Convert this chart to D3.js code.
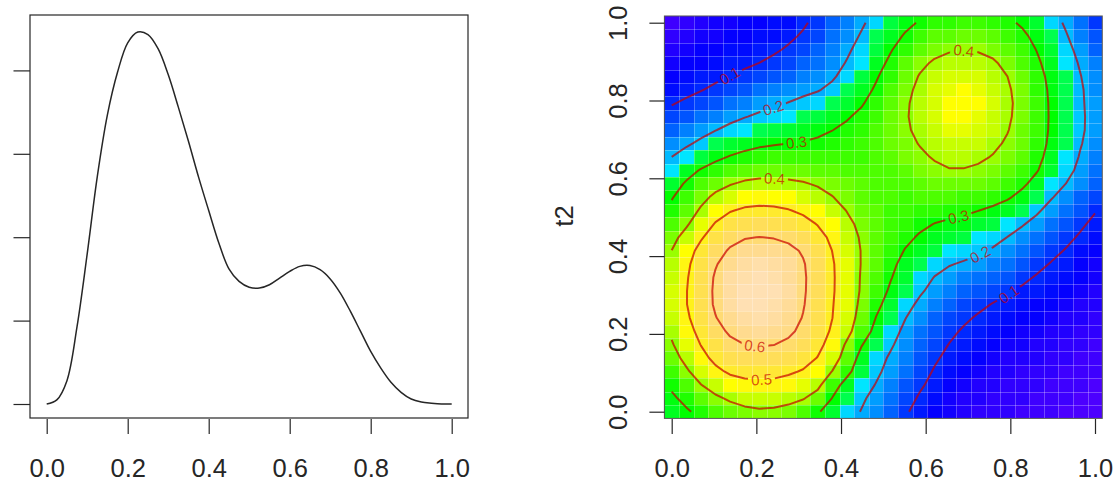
<!DOCTYPE html>
<html><head><meta charset="utf-8">
<script src="https://cdn.jsdelivr.net/npm/d3@7"></script>
<style>body{margin:0;background:#fff} svg{display:block} text{font-family:"Liberation Sans",Arial,Helvetica,sans-serif}</style>
</head><body><svg id="c" width="1113" height="490"></svg>
<script>
// ---------- left panel: density curve ----------
const densityT = [0,0.025,0.05,0.075,0.1,0.125,0.15,0.175,0.2,0.225,0.25,0.275,0.3,0.325,0.35,0.375,0.4,0.425,0.45,0.475,0.5,0.525,0.55,0.575,0.6,0.625,0.65,0.675,0.7,0.725,0.75,0.775,0.8,0.825,0.85,0.875,0.9,0.925,0.95,0.975,1];
const densityV = [0,0.05,0.28,0.93,1.80,2.73,3.47,3.98,4.33,4.46,4.43,4.26,3.95,3.56,3.15,2.72,2.32,1.93,1.62,1.47,1.40,1.39,1.43,1.51,1.59,1.65,1.66,1.61,1.50,1.33,1.11,0.87,0.63,0.43,0.26,0.14,0.06,0.025,0.01,0,0];
const xTicks = [0,0.2,0.4,0.6,0.8,1.0];
const densityYTicks = [0,1,2,3,4];
const t2Ticks = [0,0.2,0.4,0.6,0.8,1.0];

// ---------- right panel: surface on a 30 x 30 grid (rows: t2 = 0 ... 1, columns: t1 = 0 ... 1) ----------
const gridT = [0,0.0345,0.069,0.1034,0.1379,0.1724,0.2069,0.2414,0.2759,0.3103,0.3448,0.3793,0.4138,0.4483,0.4828,0.5172,0.5517,0.5862,0.6207,0.6552,0.6897,0.7241,0.7586,0.7931,0.8276,0.8621,0.8966,0.931,0.9655,1];
const zValues = [
[0.279,0.292,0.316,0.344,0.367,0.383,0.391,0.387,0.374,0.349,0.308,0.264,0.226,0.197,0.166,0.135,0.106,0.083,0.067,0.054,0.045,0.038,0.034,0.031,0.027,0.024,0.021,0.018,0.014,0.010],
[0.289,0.317,0.353,0.386,0.411,0.426,0.431,0.431,0.423,0.405,0.367,0.298,0.243,0.210,0.180,0.149,0.119,0.094,0.076,0.061,0.051,0.044,0.039,0.035,0.032,0.029,0.025,0.022,0.019,0.014],
[0.311,0.352,0.398,0.436,0.463,0.477,0.481,0.479,0.470,0.455,0.420,0.336,0.271,0.230,0.197,0.165,0.134,0.107,0.086,0.070,0.058,0.050,0.044,0.040,0.036,0.033,0.030,0.026,0.023,0.018],
[0.342,0.389,0.439,0.482,0.512,0.526,0.529,0.524,0.511,0.494,0.460,0.398,0.322,0.254,0.213,0.179,0.147,0.119,0.096,0.079,0.066,0.057,0.050,0.045,0.041,0.037,0.034,0.030,0.026,0.022],
[0.370,0.421,0.475,0.520,0.551,0.566,0.570,0.565,0.552,0.531,0.497,0.444,0.358,0.271,0.225,0.191,0.159,0.130,0.107,0.088,0.074,0.064,0.056,0.050,0.046,0.042,0.038,0.035,0.030,0.026],
[0.393,0.447,0.502,0.550,0.583,0.600,0.605,0.601,0.587,0.562,0.523,0.468,0.387,0.305,0.248,0.208,0.173,0.142,0.118,0.099,0.084,0.073,0.064,0.057,0.052,0.047,0.043,0.039,0.035,0.030],
[0.413,0.468,0.525,0.576,0.611,0.629,0.635,0.629,0.613,0.584,0.542,0.489,0.426,0.348,0.275,0.225,0.186,0.155,0.130,0.110,0.095,0.083,0.073,0.065,0.059,0.054,0.049,0.045,0.040,0.034],
[0.431,0.486,0.545,0.597,0.633,0.651,0.657,0.649,0.629,0.597,0.553,0.501,0.441,0.370,0.298,0.244,0.202,0.169,0.144,0.124,0.108,0.095,0.084,0.076,0.068,0.062,0.056,0.050,0.045,0.039],
[0.442,0.497,0.556,0.610,0.646,0.665,0.670,0.661,0.639,0.605,0.559,0.505,0.447,0.383,0.321,0.267,0.222,0.187,0.161,0.140,0.123,0.110,0.098,0.089,0.080,0.071,0.064,0.057,0.050,0.043],
[0.443,0.497,0.557,0.612,0.649,0.669,0.675,0.666,0.644,0.609,0.563,0.509,0.451,0.392,0.337,0.289,0.245,0.209,0.180,0.158,0.142,0.129,0.117,0.105,0.093,0.083,0.073,0.064,0.056,0.047],
[0.436,0.492,0.554,0.608,0.644,0.664,0.670,0.663,0.643,0.610,0.564,0.510,0.451,0.394,0.346,0.304,0.263,0.228,0.198,0.178,0.165,0.153,0.140,0.126,0.110,0.096,0.084,0.073,0.063,0.052],
[0.423,0.483,0.544,0.595,0.630,0.650,0.657,0.651,0.635,0.606,0.562,0.508,0.451,0.397,0.353,0.315,0.280,0.248,0.221,0.204,0.193,0.181,0.165,0.147,0.129,0.112,0.097,0.084,0.071,0.059],
[0.401,0.464,0.526,0.574,0.608,0.627,0.633,0.629,0.617,0.593,0.551,0.499,0.446,0.397,0.357,0.325,0.297,0.272,0.249,0.234,0.222,0.210,0.193,0.172,0.151,0.131,0.113,0.097,0.081,0.067],
[0.374,0.430,0.491,0.543,0.578,0.596,0.601,0.597,0.586,0.564,0.528,0.483,0.434,0.392,0.359,0.333,0.312,0.294,0.276,0.263,0.252,0.238,0.221,0.199,0.176,0.153,0.132,0.112,0.094,0.077],
[0.343,0.389,0.447,0.506,0.541,0.557,0.562,0.558,0.547,0.527,0.496,0.457,0.417,0.383,0.357,0.338,0.324,0.311,0.299,0.290,0.281,0.269,0.253,0.232,0.206,0.180,0.153,0.129,0.108,0.089],
[0.317,0.359,0.410,0.461,0.495,0.512,0.518,0.514,0.504,0.486,0.460,0.429,0.398,0.372,0.353,0.341,0.333,0.327,0.322,0.318,0.312,0.301,0.288,0.270,0.243,0.210,0.177,0.149,0.125,0.103],
[0.295,0.335,0.377,0.416,0.444,0.461,0.468,0.466,0.458,0.444,0.425,0.402,0.380,0.362,0.349,0.343,0.342,0.343,0.345,0.346,0.342,0.334,0.324,0.308,0.281,0.244,0.205,0.174,0.145,0.120],
[0.269,0.308,0.344,0.372,0.395,0.411,0.418,0.417,0.413,0.405,0.393,0.378,0.364,0.353,0.346,0.346,0.352,0.360,0.368,0.372,0.371,0.365,0.354,0.338,0.313,0.278,0.238,0.200,0.166,0.137],
[0.237,0.273,0.305,0.329,0.349,0.363,0.371,0.373,0.372,0.369,0.363,0.357,0.351,0.347,0.346,0.352,0.363,0.376,0.388,0.397,0.397,0.390,0.378,0.361,0.337,0.305,0.263,0.221,0.184,0.151],
[0.200,0.230,0.259,0.284,0.304,0.319,0.329,0.333,0.335,0.335,0.337,0.338,0.339,0.342,0.348,0.359,0.374,0.390,0.405,0.416,0.418,0.411,0.397,0.379,0.353,0.319,0.278,0.235,0.195,0.163],
[0.167,0.189,0.214,0.239,0.260,0.276,0.288,0.295,0.300,0.304,0.311,0.319,0.327,0.337,0.349,0.365,0.384,0.403,0.420,0.432,0.435,0.428,0.413,0.392,0.364,0.328,0.287,0.243,0.204,0.172],
[0.139,0.157,0.177,0.198,0.218,0.235,0.248,0.258,0.266,0.275,0.286,0.299,0.313,0.328,0.346,0.368,0.391,0.414,0.433,0.447,0.450,0.443,0.427,0.403,0.372,0.334,0.291,0.247,0.209,0.179],
[0.116,0.130,0.146,0.163,0.181,0.197,0.211,0.223,0.234,0.245,0.258,0.274,0.294,0.314,0.338,0.366,0.394,0.420,0.442,0.457,0.461,0.454,0.436,0.410,0.377,0.336,0.292,0.247,0.208,0.183],
[0.097,0.107,0.119,0.133,0.148,0.163,0.177,0.189,0.202,0.215,0.227,0.244,0.268,0.294,0.325,0.358,0.391,0.421,0.444,0.460,0.465,0.457,0.439,0.413,0.378,0.336,0.291,0.246,0.207,0.181],
[0.081,0.089,0.098,0.109,0.122,0.134,0.146,0.159,0.172,0.185,0.196,0.214,0.242,0.274,0.309,0.347,0.383,0.415,0.439,0.454,0.458,0.452,0.436,0.409,0.374,0.332,0.288,0.245,0.207,0.175],
[0.070,0.077,0.083,0.091,0.101,0.110,0.120,0.132,0.144,0.157,0.171,0.192,0.221,0.255,0.293,0.332,0.371,0.404,0.428,0.441,0.445,0.440,0.425,0.400,0.365,0.324,0.282,0.240,0.202,0.167],
[0.061,0.067,0.072,0.079,0.085,0.092,0.100,0.110,0.122,0.135,0.152,0.175,0.204,0.238,0.275,0.314,0.353,0.386,0.408,0.420,0.424,0.420,0.408,0.384,0.351,0.312,0.272,0.231,0.193,0.156],
[0.051,0.057,0.063,0.069,0.074,0.080,0.086,0.094,0.105,0.119,0.136,0.160,0.189,0.222,0.258,0.295,0.331,0.361,0.382,0.394,0.398,0.395,0.384,0.363,0.334,0.298,0.260,0.220,0.180,0.143],
[0.040,0.048,0.054,0.060,0.066,0.070,0.075,0.082,0.092,0.105,0.123,0.146,0.175,0.206,0.240,0.275,0.307,0.334,0.353,0.363,0.367,0.365,0.356,0.339,0.314,0.282,0.246,0.206,0.165,0.127],
[0.030,0.038,0.045,0.052,0.058,0.063,0.067,0.073,0.082,0.094,0.112,0.135,0.161,0.191,0.223,0.254,0.283,0.306,0.323,0.332,0.335,0.334,0.327,0.313,0.291,0.262,0.228,0.191,0.150,0.110]
];
const contourLevels = [0.1,0.2,0.3,0.4,0.5,0.6];
// where R placed each contour label (t1, t2)
const labelLevel = [0.1,0.2,0.3,0.4,0.6,0.5,0.4,0.3,0.2,0.1];
const labelT1 = [0.137,0.24,0.295,0.243,0.196,0.212,0.69,0.678,0.727,0.795];
const labelT2 = [0.864,0.781,0.691,0.599,0.167,0.086,0.926,0.497,0.407,0.304];

// ---------- drawing ----------
const svg=d3.select("#c");
const ink="#262626";
const NG=gridT.length;
// left panel
const xL=d3.scaleLinear([0,1],[46.7,451.7]);
const yL=d3.scaleLinear([0,1],[404,404-83.4]);
svg.append("rect").attr("x",30).attr("y",15).attr("width",438).attr("height",403).attr("fill","none").attr("stroke",ink).attr("stroke-width",1.2);
svg.append("path").datum(densityT.map((t,i)=>[t,densityV[i]]))
  .attr("d",d3.line().x(d=>xL(d[0])).y(d=>yL(d[1])).curve(d3.curveCatmullRom.alpha(0.5)))
  .attr("fill","none").attr("stroke",ink).attr("stroke-width",1.5);
const axL=svg.append("g").attr("transform","translate(0,419)").call(d3.axisBottom(xL).tickValues(xTicks).tickFormat(d3.format(".1f")).tickSize(15).tickPadding(25));
const axLy=svg.append("g").attr("transform","translate(30,0)").call(d3.axisLeft(yL).tickValues(densityYTicks).tickFormat("").tickSize(16.5));

// right panel
const xR=d3.scaleLinear([0,1],[671.7,1095]);
const yR=d3.scaleLinear([0,1],[411.7,22.7]);
const half=0.5/(NG-1);
function hsv(h,s,v){const i=Math.floor(h*6),f=h*6-i,p=v*(1-s),q=v*(1-f*s),t=v*(1-(1-f)*s);let r,g,b;
 switch(((i%6)+6)%6){case 0:r=v;g=t;b=p;break;case 1:r=q;g=v;b=p;break;case 2:r=p;g=v;b=t;break;case 3:r=p;g=q;b=v;break;case 4:r=t;g=p;b=v;break;default:r=v;g=p;b=q;}
 return d3.rgb(Math.round(r*255),Math.round(g*255),Math.round(b*255)).formatHex();}
function topoColors(nc){const j=Math.floor(nc/3),k=Math.floor(nc/3),i=nc-j-k;const sq=(a,b,m)=>m===1?[a]:d3.range(m).map(q=>a+(b-a)*q/(m-1));
 const c=[];sq(43/60,31/60,i).forEach(h=>c.push(hsv(h,1,1)));sq(23/60,11/60,j).forEach(h=>c.push(hsv(h,1,1)));
 const hs=sq(10/60,6/60,k),ss=sq(1,0.3,k);hs.forEach((h,q)=>c.push(hsv(h,ss[q],1)));return c;}
const pal=topoColors(64);
const flat=zValues.flat();
const colScale=d3.scaleQuantize(d3.extent(flat),pal);
const cells=[];zValues.forEach((row,j)=>row.forEach((v,i)=>cells.push({i,j,v})));
svg.append("g").attr("shape-rendering","crispEdges").selectAll("rect").data(cells).join("rect")
 .attr("x",d=>xR(gridT[d.i]-half)).attr("width",d=>xR(gridT[d.i]+half)-xR(gridT[d.i]-half))
 .attr("y",d=>yR(gridT[d.j]+half)).attr("height",d=>yR(gridT[d.j]-half)-yR(gridT[d.j]+half))
 .attr("fill",d=>colScale(d.v));
const gSeam=svg.append("g").attr("stroke","rgba(255,255,255,0.28)").attr("stroke-width",1);
d3.range(1,NG).forEach(i=>{const x=Math.round(xR(gridT[i]-half))+0.5;gSeam.append("line").attr("x1",x).attr("x2",x).attr("y1",yR(1+half)).attr("y2",yR(-half));});
d3.range(1,NG).forEach(j=>{const y=Math.round(yR(gridT[j]-half))+0.5;gSeam.append("line").attr("y1",y).attr("y2",y).attr("x1",xR(-half)).attr("x2",xR(1+half));});

// contour lines (d3.contours, opened where they meet the grid border, like R's contour())
const contours=d3.contours().size([NG,NG]).thresholds(contourLevels)(flat);
const toPix=p=>[xR((p[0]-0.5)/(NG-1)),yR((p[1]-0.5)/(NG-1))];
const isB=p=>p[0]<0.25||p[0]>NG-0.25||p[1]<0.25||p[1]>NG-0.25;
const lines=[];
contours.forEach(c=>{c.coordinates.forEach(poly=>poly.forEach(ring=>{
  const r=ring.slice(0,-1);const bi=r.findIndex(isB);
  if(bi<0){lines.push({level:c.value,pts:ring.map(toPix),closed:true});return;}
  const rot=r.slice(bi).concat(r.slice(0,bi));let cur=[];
  rot.forEach(p=>{if(isB(p)){if(cur.length>1)lines.push({level:c.value,pts:cur.map(toPix),closed:false});cur=[];}else cur.push(p);});
  if(cur.length>1)lines.push({level:c.value,pts:cur.map(toPix),closed:false});
}));});
const lineCol="rgba(200,0,0,0.7)";
const labels=labelLevel.map((lv,k)=>{const tx=xR(labelT1[k]),ty=yR(labelT2[k]);let best=null;
  lines.filter(l=>Math.abs(l.level-lv)<1e-9).forEach(l=>{for(let q=0;q<l.pts.length-1;q++){const a=l.pts[q],b=l.pts[q+1];
    const vx=b[0]-a[0],vy=b[1]-a[1],L2=vx*vx+vy*vy;let u=L2?((tx-a[0])*vx+(ty-a[1])*vy)/L2:0;u=Math.max(0,Math.min(1,u));
    const px=a[0]+u*vx,py=a[1]+u*vy,dd=(px-tx)**2+(py-ty)**2;
    if(!best||dd<best.dd){let ang=Math.atan2(vy,vx)*180/Math.PI;if(ang>90)ang-=180;if(ang<=-90)ang+=180;best={dd,x:px,y:py,ang};}}});
  return Object.assign({text:d3.format(".1f")(lv)},best||{x:tx,y:ty,ang:0});});
const mask=svg.append("defs").append("mask").attr("id","lblmask").attr("maskUnits","userSpaceOnUse").attr("x",0).attr("y",0).attr("width",1113).attr("height",490);
mask.append("rect").attr("width",1113).attr("height",490).attr("fill","#fff");
svg.append("g").attr("mask","url(#lblmask)").selectAll("path").data(lines).join("path")
 .attr("d",l=>d3.line()(l.pts)+(l.closed?"Z":"")).attr("fill","none").attr("stroke",lineCol).attr("stroke-width",2).attr("stroke-linejoin","round");
const gL=svg.append("g");
labels.forEach(l=>{const t=gL.append("text").attr("transform",`translate(${l.x},${l.y}) rotate(${l.ang})`)
  .attr("text-anchor","middle").attr("dy","0.36em").attr("font-size",15).attr("fill",lineCol).text(l.text);
  const wd=t.node().getComputedTextLength()+6;
  mask.append("rect").attr("x",-wd/2).attr("y",-7).attr("width",wd).attr("height",14).attr("fill","#000")
   .attr("transform",`translate(${l.x},${l.y}) rotate(${l.ang})`);});
// frame & axes
svg.append("rect").attr("x",xR(-half)).attr("y",yR(1+half)).attr("width",xR(1+half)-xR(-half)).attr("height",yR(-half)-yR(1+half)).attr("fill","none").attr("stroke","#555").attr("stroke-width",1);
const axR=svg.append("g").attr("transform","translate(0,419)").call(d3.axisBottom(xR).tickValues(xTicks).tickFormat(d3.format(".1f")).tickSize(15).tickPadding(25));
const axRy=svg.append("g").attr("transform",`translate(${xR(-half)},0)`).call(d3.axisLeft(yR).tickValues(t2Ticks).tickFormat(d3.format(".1f")).tickSize(15));
axRy.selectAll("text").attr("x",null).attr("dy",null).attr("text-anchor","middle").attr("transform","translate(-37.7,0) rotate(-90)");
[axL,axLy,axR,axRy].forEach(a=>{a.select(".domain").remove();a.selectAll("line").attr("stroke",ink).attr("stroke-width",1.2);
  a.selectAll("text").attr("font-size",25.5).attr("fill",ink).attr("font-family","Liberation Sans, Arial, sans-serif");});
svg.append("text").attr("transform","translate(573,216) rotate(-90)").attr("text-anchor","middle").attr("font-size",25.5).attr("fill",ink).text("t2");
</script></body></html>
